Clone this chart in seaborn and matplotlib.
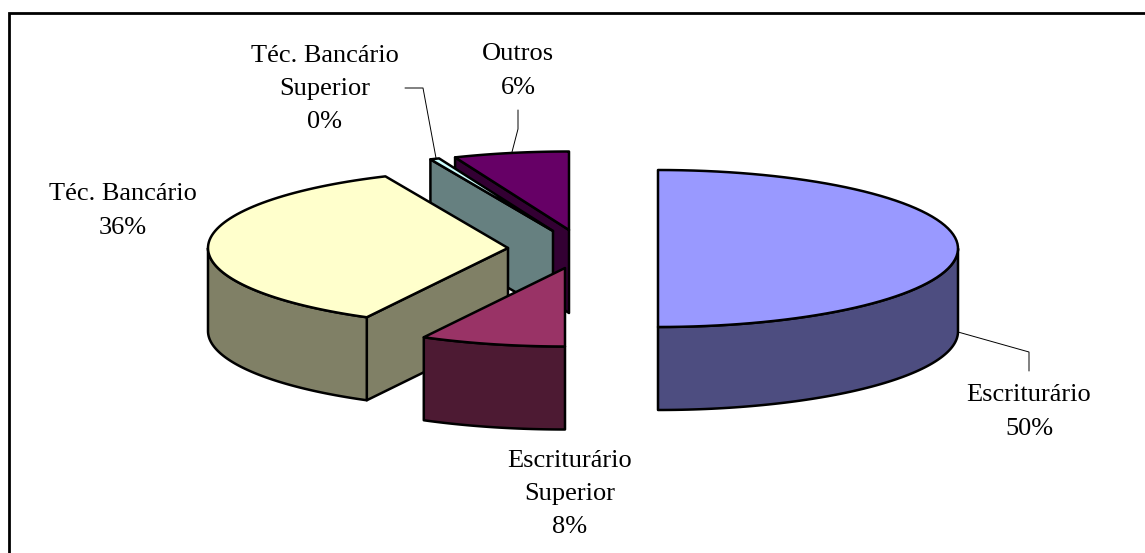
import numpy as np
import matplotlib
matplotlib.use("Agg")
import matplotlib.pyplot as plt
import seaborn as sns

# --- DATA ---
categories = ["Escriturário", "Escriturário\nSuperior", "Téc. Bancário", "Téc. Bancário\nSuperior", "Outros"]
shares = [50.0, 7.8, 35.5, 0.5, 6.2]
pct_labels = ["50%", "8%", "36%", "0%", "6%"]

# --- STYLE / LAYOUT (pixels) ---
top_colors = ["#9999FF", "#993366", "#FFFFCC", "#CCFFFF", "#660066"]
centers = [(658, 248.5), (565, 268), (508, 248), (553, 231), (569, 230)]
label_pos = [(1029, 412), (570, 494), (123, 211), (325, 89), (518, 71)]
RX, RY, DEPTH = 300, 78.5, 83

sns.set_theme(style="white")
plt.rcParams["font.family"] = ["Liberation Serif", "DejaVu Serif"]
palette = sns.color_palette(top_colors)

fig, ax = plt.subplots(figsize=(11.45, 5.53), dpi=100)
fig.subplots_adjust(left=0, right=1, top=1, bottom=0)
ax.set_xlim(0, 1145)
ax.set_ylim(553, 0)
ax.axis("off")

LW = 1.8


def rim(cx, cy, t0, t1, n=80):
    t = np.radians(np.linspace(t0, t1, n))
    return cx + RX * np.sin(t), cy - RY * np.cos(t)


def draw_slice(i, t0, t1):
    cx, cy = centers[i]
    top = palette[i]
    side = tuple(c * 0.5 for c in top)
    # cut face on the starting edge
    if 180 < t0 < 360:
        ex, ey = rim(cx, cy, t0, t0, 1)
        ax.fill([cx, ex[0], ex[0], cx], [cy, ey[0], ey[0] + DEPTH, cy + DEPTH],
                facecolor=side, edgecolor="black", lw=LW, joinstyle="round")
    # outer wall, front half only
    a, b = max(t0, 90), min(t1, 270)
    if a < b:
        x, y = rim(cx, cy, a, b)
        ax.fill(np.r_[x, x[::-1]], np.r_[y, y[::-1] + DEPTH],
                facecolor=side, edgecolor="black", lw=LW, joinstyle="round")
    # top surface
    x, y = rim(cx, cy, t0, t1)
    ax.fill(np.r_[cx, x], np.r_[cy, y], facecolor=top, edgecolor="black", lw=LW, joinstyle="round")


edges = 3.6 * np.r_[0, np.cumsum(shares)]
for i in [4, 3, 2, 1, 0]:
    draw_slice(i, edges[i], edges[i + 1])

# leader lines
leaders = [([958, 1029, 1029], [332, 352, 371]),
           ([405, 423, 436], [88, 88, 158]),
           ([518, 518, 512], [110, 129, 152])]
for lx, ly in leaders:
    ax.plot(lx, ly, color="black", lw=0.7)

for name, pct, (tx, ty) in zip(categories, pct_labels, label_pos):
    ax.text(tx, ty, f"{name}\n{pct}", ha="center", va="center", fontsize=19,
            color="black", linespacing=1.66)

# chart frame, only the top and left edges fall inside the picture
ax.plot([8.5, 8.5, 1145], [553, 13, 13], color="black", lw=2, solid_joinstyle="miter")

fig.savefig("out.png", dpi=100)
plt.close(fig)
